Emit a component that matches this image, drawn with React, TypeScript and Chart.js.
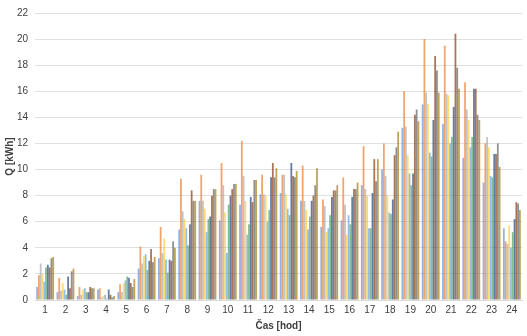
import React, { useEffect, useRef } from "react";
import { Chart, registerables } from "chart.js";

Chart.register(...registerables);

const hours = ["1","2","3","4","5","6","7","8","9","10","11","12","13","14","15","16","17","18","19","20","21","22","23","24"];

const s1 = [1.0,0.6,0.3,0.8,0.6,2.4,3.2,5.4,7.6,6.1,7.3,8.1,8.2,7.6,5.6,6.1,8.8,10.0,13.2,15.0,13.5,10.9,9.0,5.5];
const s2 = [1.9,1.7,1.0,0.9,1.2,4.1,5.6,9.3,9.6,10.5,12.2,9.6,9.6,10.3,7.7,9.4,11.8,12.0,16.0,20.0,19.5,16.7,12.0,4.5];
const s3 = [2.8,0.7,0.4,0.2,0.6,2.8,3.6,6.8,7.6,8.8,9.5,8.1,9.6,7.6,7.2,7.3,8.5,9.5,13.3,15.9,15.8,14.6,12.5,4.3];
const s4 = [2.0,1.3,0.8,0.3,1.3,3.4,4.7,6.2,7.0,6.7,7.6,8.0,8.1,6.9,5.2,5.0,8.0,8.0,11.1,15.0,15.7,13.8,11.7,5.7];
const s5 = [1.4,0.8,0.9,0.4,1.5,3.5,3.1,5.5,5.2,3.6,5.0,6.0,7.0,5.4,5.5,6.5,5.5,6.7,9.7,11.3,12.0,11.7,9.5,4.0];
const s6 = [2.5,0.4,0.6,0.1,1.8,2.3,2.1,4.2,6.2,7.3,5.8,6.9,6.5,6.4,6.5,5.8,5.5,6.6,8.8,11.0,12.5,12.5,9.4,5.2];
const s7 = [2.7,1.8,0.6,0.8,1.7,3.0,3.1,5.8,6.4,8.0,7.9,9.4,10.5,7.6,7.9,7.9,8.2,7.7,9.7,13.8,14.8,16.2,11.2,6.2];
const s8 = [2.5,0.9,1.0,0.4,1.3,3.9,3.0,8.4,8.0,8.5,7.5,10.5,9.5,8.0,8.4,8.5,10.8,11.1,14.2,18.7,20.4,16.2,11.2,7.5];
const s9 = [3.2,2.2,0.9,0.2,1.0,2.9,4.5,7.6,8.5,8.9,9.2,9.4,9.4,8.8,8.4,8.5,9.1,11.7,14.6,17.6,17.8,14.2,12.0,7.4];
const s10 = [3.3,2.4,0.9,0.3,1.6,3.3,4.0,7.6,8.5,8.9,9.2,10.1,9.9,10.1,8.8,9.0,10.8,12.9,13.7,15.9,16.2,13.8,10.2,6.9];

const seriesList = [s1, s2, s3, s4, s5, s6, s7, s8, s9, s10];
const seriesNames = ["1","2","3","4","5","6","7","8","9","10"];
const colors = [
  "rgba(68,114,196,0.55)",
  "rgba(237,125,49,0.7)",
  "rgba(165,165,165,0.65)",
  "rgba(255,192,0,0.55)",
  "rgba(91,155,213,0.65)",
  "rgba(80,160,110,0.7)",
  "rgba(38,68,120,0.7)",
  "rgba(140,72,30,0.75)",
  "rgba(99,99,99,0.7)",
  "rgba(153,115,0,0.65)",
];

export default function App() {
  const ref = useRef<HTMLCanvasElement | null>(null);
  useEffect(() => {
    document.body.style.margin = "0";
    const ctx = ref.current!.getContext("2d")!;
    const chart = new Chart(ctx, {
      type: "bar",
      data: {
        labels: hours,
        datasets: seriesList.map((d, i) => ({
          label: seriesNames[i],
          data: d,
          backgroundColor: colors[i],
          borderWidth: 0,
          barPercentage: 1.0,
          categoryPercentage: 0.88,
        })),
      },
      options: {
        responsive: false,
        animation: false,
        devicePixelRatio: 1,
        layout: { padding: { left: 4, right: 5, top: 2, bottom: 4 } },
        plugins: { legend: { display: false }, tooltip: { enabled: false } },
        scales: {
          x: {
            grid: { display: false, drawTicks: false },
            border: { display: true, color: "#d9d9d9" },
            ticks: { color: "#404040", font: { family: "Liberation Sans", size: 10 }, padding: 4, maxRotation: 0 },
            title: { display: true, text: "Čas [hod]", color: "#404040", font: { family: "Liberation Sans", size: 10, weight: "bold" }, padding: { top: 2, bottom: 0 } },
            afterFit: (s: any) => { s.height = 32; },
          },
          y: {
            min: 0,
            max: 22,
            ticks: { stepSize: 2, color: "#404040", font: { family: "Liberation Sans", size: 10 }, padding: 7 },
            grid: { color: "#e0e0e0", drawTicks: false },
            border: { display: false },
            title: { display: true, text: "Q [kWh]", color: "#404040", font: { family: "Liberation Sans", size: 10, weight: "bold" }, padding: { top: 0, bottom: 0 } },
            afterFit: (s: any) => { s.width = 31; },
          },
        },
      },
    });
    return () => chart.destroy();
  }, []);
  return (
    <div style={{ position: "absolute", left: 0, top: 0, width: 527, height: 336, background: "#fff" }}>
      <canvas ref={ref} width={527} height={336} />
    </div>
  );
}
